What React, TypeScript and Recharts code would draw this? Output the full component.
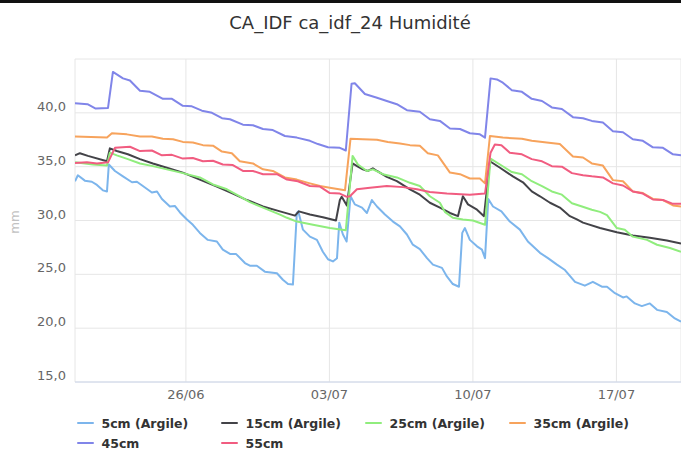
import { LineChart, Line, XAxis, YAxis, CartesianGrid } from 'recharts'

// [days since 20/06, mm]
type Pt = [number, number]

const TITLE = 'CA_IDF ca_idf_24 Humidité'
const Y_UNIT = 'mm'
const Y_TICKS = [15, 20, 25, 30, 35, 40, 45]
const X_TICKS = [6, 13, 20, 27]
const X_DOMAIN: [number, number] = [0.59, 30.15]

const s5cm: Pt[] = [
  [0.59, 33.65], [0.73, 34.2], [1.07, 33.7], [1.41, 33.6], [1.66, 33.3], [1.95, 32.8], [2.15, 32.7], [2.24, 35.2],
  [2.54, 34.6], [2.93, 34.1], [3.37, 33.55], [3.61, 33.6], [3.9, 33.2], [4.34, 32.6], [4.59, 32.7], [4.83, 32.0],
  [5.22, 31.3], [5.46, 31.35], [5.71, 30.75], [6.05, 30.1], [6.34, 29.6], [6.68, 28.85], [7.07, 28.2], [7.51, 28.05],
  [7.8, 27.3], [8.15, 26.9], [8.44, 26.9], [8.88, 26.05], [9.12, 25.8], [9.46, 25.8], [9.85, 25.25], [10.44, 25.1],
  [10.73, 24.5], [10.98, 24.1], [11.22, 24.05], [11.41, 30.7], [11.48, 30.85], [11.71, 29.15], [12.05, 28.5],
  [12.39, 28.2], [12.68, 27.1], [12.93, 26.4], [13.17, 26.2], [13.37, 26.5], [13.48, 29.8], [13.66, 28.7],
  [13.84, 28.05], [14.03, 32.25], [14.24, 31.5], [14.59, 31.2], [14.83, 30.7], [15.07, 31.9], [15.32, 31.3],
  [15.71, 30.55], [16.1, 29.9], [16.44, 29.45], [16.78, 28.7], [17.07, 27.75], [17.41, 27.35], [17.76, 26.5],
  [18.05, 25.9], [18.49, 25.6], [18.73, 24.8], [19.02, 24.1], [19.32, 23.85], [19.48, 28.85], [19.61, 29.3],
  [19.85, 28.2], [20.2, 27.6], [20.44, 27.3], [20.59, 26.5], [20.75, 32.0], [20.98, 31.3], [21.39, 30.85],
  [21.8, 29.9], [22.29, 29.15], [22.68, 28.05], [23.27, 27.0], [23.66, 26.5], [24.1, 25.9], [24.49, 25.4],
  [24.98, 24.3], [25.46, 23.95], [25.85, 24.3], [26.29, 23.85], [26.54, 23.85], [26.93, 23.25], [27.32, 22.85],
  [27.5, 22.95], [27.9, 22.3], [28.24, 22.05], [28.63, 22.3], [28.98, 21.7], [29.46, 21.5], [29.85, 20.9], [30.15, 20.6],
]

const s15cm: Pt[] = [
  [0.59, 36.05], [0.83, 36.25], [1.22, 36.0], [2.15, 35.5], [2.29, 36.7], [2.63, 36.45], [3.17, 36.15], [3.76, 35.7],
  [4.39, 35.3], [5.07, 34.9], [5.85, 34.45], [6.68, 33.8], [7.51, 33.15], [8.29, 32.5], [8.98, 31.9], [9.76, 31.3],
  [10.59, 30.85], [11.32, 30.45], [11.51, 30.85], [12.05, 30.55], [12.68, 30.3], [13.32, 30.0], [13.51, 31.9],
  [13.6, 32.2], [13.85, 31.4], [14.13, 35.3], [14.39, 35.0], [14.63, 34.75], [14.88, 34.6], [15.12, 34.85],
  [15.32, 34.6], [15.8, 34.05], [16.29, 33.65], [16.93, 32.9], [17.41, 32.4], [17.9, 31.65], [18.39, 31.2],
  [18.88, 30.7], [19.27, 30.4], [19.51, 32.25], [19.76, 31.5], [20.2, 31.0], [20.54, 30.4], [20.83, 35.5],
  [21.32, 34.9], [21.95, 34.1], [22.44, 33.55], [22.87, 32.7], [23.27, 32.25], [23.76, 31.65], [24.24, 31.2],
  [24.73, 30.4], [25.07, 30.1], [25.37, 29.8], [26.2, 29.3], [27.02, 28.9], [27.8, 28.6], [28.63, 28.4],
  [29.46, 28.15], [30.15, 27.85],
]

const s25cm: Pt[] = [
  [0.59, 35.4], [1.46, 35.2], [2.15, 35.1], [2.29, 36.3], [2.63, 36.05], [3.17, 35.7], [3.76, 35.3], [4.39, 35.05],
  [5.07, 34.75], [5.85, 34.4], [6.68, 34.0], [7.32, 33.35], [8.0, 32.9], [8.63, 32.25], [9.12, 31.7], [9.76, 31.2],
  [10.59, 30.55], [10.93, 30.25], [11.41, 29.9], [12.2, 29.6], [13.02, 29.3], [13.8, 29.1], [14.13, 36.0],
  [14.39, 35.2], [14.83, 34.6], [15.12, 34.75], [15.61, 34.3], [16.29, 34.0], [16.93, 33.5], [17.41, 33.2],
  [17.9, 32.25], [18.39, 31.65], [18.63, 30.8], [19.02, 30.25], [19.51, 30.1], [20.0, 30.0], [20.59, 29.6],
  [20.86, 35.75], [21.32, 35.2], [21.9, 34.5], [22.39, 34.3], [22.87, 33.65], [23.37, 33.2], [23.85, 32.7],
  [24.34, 32.4], [24.83, 31.6], [25.32, 31.3], [25.8, 31.0], [26.2, 30.8], [26.54, 30.5], [27.02, 29.3],
  [27.41, 29.15], [27.8, 28.5], [28.49, 28.2], [28.98, 27.75], [29.61, 27.45], [30.15, 27.1],
]

const s35cm: Pt[] = [
  [0.59, 37.8], [2.15, 37.7], [2.39, 38.1], [3.12, 38.0], [3.76, 37.8], [4.34, 37.8], [4.88, 37.6], [5.37, 37.55],
  [5.85, 37.3], [6.34, 37.25], [6.83, 37.0], [7.32, 36.95], [7.76, 36.4], [8.24, 36.25], [8.63, 35.5], [9.27, 35.3],
  [9.76, 34.75], [10.24, 34.6], [10.83, 34.0], [11.41, 33.8], [12.05, 33.45], [12.54, 33.2], [13.02, 33.05],
  [13.76, 32.8], [14.03, 37.6], [14.63, 37.55], [15.32, 37.5], [15.85, 37.3], [16.44, 37.15], [16.93, 37.0],
  [17.41, 36.95], [17.8, 36.25], [18.29, 36.05], [18.88, 34.45], [19.37, 34.3], [19.85, 33.9], [20.34, 33.9],
  [20.59, 33.45], [20.83, 37.85], [21.46, 37.7], [22.39, 37.6], [22.87, 37.4], [23.6, 37.25], [24.24, 37.1],
  [24.88, 35.95], [25.37, 35.85], [25.8, 35.3], [26.34, 35.1], [26.83, 33.75], [27.32, 33.65], [27.8, 32.7],
  [28.29, 32.55], [28.78, 32.0], [29.27, 31.9], [29.76, 31.4], [30.15, 31.3],
]

const s45cm: Pt[] = [
  [0.59, 40.9], [1.2, 40.8], [1.6, 40.4], [2.2, 40.45], [2.44, 43.8], [2.93, 43.2], [3.27, 43.0], [3.76, 42.05],
  [4.24, 41.95], [4.88, 41.3], [5.32, 41.3], [5.85, 40.65], [6.29, 40.6], [6.78, 40.2], [7.27, 40.0], [7.76, 39.5],
  [8.15, 39.4], [8.78, 38.9], [9.27, 38.85], [9.76, 38.5], [10.24, 38.4], [10.83, 37.85], [11.41, 37.7],
  [12.05, 37.4], [12.44, 37.1], [12.93, 36.8], [13.51, 36.75], [13.8, 36.5], [14.08, 42.7], [14.24, 42.75],
  [14.73, 41.75], [15.32, 41.4], [15.8, 41.1], [16.29, 40.8], [16.78, 40.25], [17.41, 40.1], [17.9, 39.4],
  [18.39, 39.25], [18.88, 38.55], [19.37, 38.5], [19.85, 38.1], [20.34, 38.0], [20.59, 37.7], [20.86, 43.2],
  [21.17, 43.1], [21.46, 42.8], [21.9, 42.1], [22.39, 41.95], [22.87, 41.3], [23.37, 41.1], [23.85, 40.5],
  [24.34, 40.35], [24.88, 39.6], [25.37, 39.5], [25.8, 39.25], [26.34, 39.1], [26.83, 38.3], [27.32, 38.2],
  [27.8, 37.55], [28.29, 37.4], [28.78, 36.8], [29.27, 36.75], [29.76, 36.15], [30.15, 36.05],
]

const s55cm: Pt[] = [
  [0.59, 35.35], [1.17, 35.4], [1.66, 35.3], [2.2, 35.4], [2.54, 36.75], [3.27, 36.85], [3.76, 36.45], [4.34, 36.5],
  [4.83, 36.05], [5.32, 36.1], [5.85, 35.75], [6.34, 35.8], [6.83, 35.5], [7.32, 35.55], [7.8, 35.2], [8.29, 35.15],
  [8.78, 34.6], [9.27, 34.6], [9.76, 34.3], [10.44, 34.3], [10.93, 33.8], [11.46, 33.65], [12.05, 33.2],
  [12.54, 33.15], [13.02, 32.55], [13.51, 32.5], [13.85, 32.2], [14.0, 32.25], [14.34, 32.9], [14.98, 33.05],
  [15.8, 33.2], [16.59, 33.1], [17.27, 32.9], [17.9, 32.65], [18.73, 32.5], [19.85, 32.4], [20.59, 32.5],
  [20.86, 36.3], [21.07, 37.05], [21.39, 37.0], [21.8, 36.3], [22.39, 36.15], [22.87, 35.7], [23.37, 35.5],
  [23.85, 35.05], [24.34, 35.0], [24.83, 34.4], [25.37, 34.2], [25.8, 34.1], [26.34, 34.0], [26.83, 33.45],
  [27.32, 33.25], [27.8, 32.7], [28.29, 32.5], [28.78, 31.95], [29.27, 31.9], [29.76, 31.55], [30.15, 31.55],
]

const SERIES_NAMES = ['5cm (Argile)', '15cm (Argile)', '25cm (Argile)', '35cm (Argile)', '45cm', '55cm']
const SERIES_VALUES = [s5cm, s15cm, s25cm, s35cm, s45cm, s55cm]
const COLORS = ['#7cb5ec', '#434348', '#90ed7d', '#f7a35c', '#8085e9', '#f15c80']

const FONT = '"DejaVu Sans", Verdana, sans-serif'

const fmtDay = (d: number) => {
  const dt = new Date(2023, 5, 20 + d)
  return `${String(dt.getDate()).padStart(2, '0')}/${String(dt.getMonth() + 1).padStart(2, '0')}`
}
const fmtVal = (v: number) => v.toFixed(1).replace('.', ',')

const YTick = ({ x, y, payload }: any) => {
  if (payload.value === 45) return <g />
  return (
    <text x={x} y={y} dy={-2} textAnchor="end" fill="#666" fontSize={13} fontFamily={FONT}>{fmtVal(payload.value)}</text>
  )
}

const XTick = ({ x, y, payload }: any) => (
  <text x={x} y={y} dy="0.71em" textAnchor="middle" fill="#666" fontSize={13} fontFamily={FONT}>{fmtDay(payload.value)}</text>
)

const UnitLabel = () => (
  <text x={15} y={222} transform="rotate(-90 15 222)" textAnchor="middle" dominantBaseline="central" fill="#c2c2c2" fontSize={12} fontFamily={FONT}>{Y_UNIT}</text>
)

export default function App() {
  const series = SERIES_NAMES.map((name, i) => ({
    name,
    color: COLORS[i],
    rows: SERIES_VALUES[i].map(([t, v]) => ({ t, v })),
  }))

  return (
    <div style={{ position: 'absolute', left: 0, top: 0, width: 681, height: 450, overflow: 'hidden', background: '#fff', fontFamily: FONT }}>
      <div style={{ position: 'absolute', left: 0, top: 0, width: 681, height: 3, background: '#111' }} />
      <div style={{ position: 'absolute', left: 0, top: 14, width: 700, textAlign: 'center', fontSize: 18, lineHeight: '18px', color: '#333' }}>{TITLE}</div>
      <LineChart width={681} height={420} margin={{ top: 59, right: 0, bottom: 8, left: 0 }}>
        <CartesianGrid stroke="#e6e6e6" />
        <XAxis type="number" dataKey="t" domain={X_DOMAIN} ticks={X_TICKS} allowDataOverflow height={30}
          tick={<XTick />} tickLine={false} axisLine={{ stroke: '#ccd6eb' }} tickMargin={2} />
        <YAxis type="number" domain={[15, 45]} ticks={Y_TICKS} width={75} tick={<YTick />} tickLine={false}
          axisLine={false} tickMargin={3} label={<UnitLabel />} />
        {series.map(s => (
          <Line key={s.name} data={s.rows} dataKey="v" name={s.name} type="linear" stroke={s.color} strokeWidth={2}
            dot={false} activeDot={false} isAnimationActive={false} strokeLinejoin="round" />
        ))}
      </LineChart>
      {series.map((s, i) => (
        <div key={s.name} style={{ position: 'absolute', left: 77 + (i % 4) * 144, top: 415 + Math.floor(i / 4) * 20, height: 16,
          display: 'flex', alignItems: 'center', fontSize: 12.5, fontWeight: 'bold', color: '#333', whiteSpace: 'nowrap' }}>
          <span style={{ display: 'inline-block', width: 17, height: 2, borderRadius: 1, background: s.color, marginRight: 7.5 }} />
          {s.name}
        </div>
      ))}
    </div>
  )
}
